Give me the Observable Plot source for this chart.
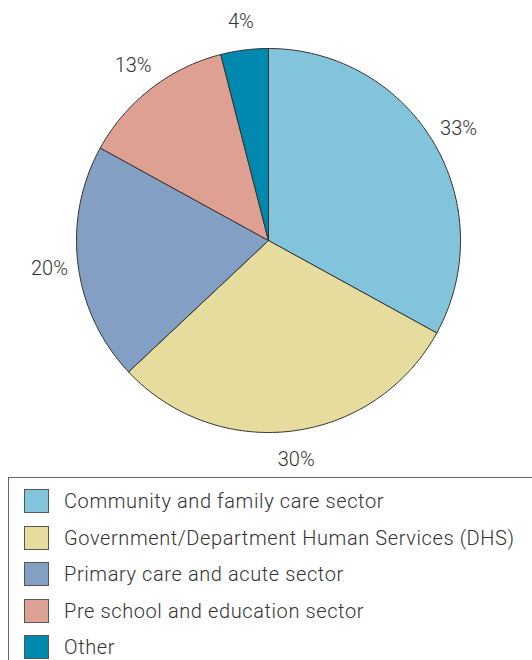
<!DOCTYPE html>
<html>
<head>
<meta charset="utf-8">
<script src="https://cdn.jsdelivr.net/npm/d3@7"></script>
<script src="https://cdn.jsdelivr.net/npm/@observablehq/plot@0.6"></script>
<style>
  html, body { margin: 0; padding: 0; background: #fff; width: 532px; overflow: hidden; }
  body { font-family: Roboto, "Open Sans", sans-serif; }
  #chart svg { display: block; }
  #legend {
    position: absolute; left: 8px; top: 477px; width: 540px; height: 200px;
    border: 1.5px solid #666; box-sizing: border-box; padding-top: 5px;
  }
  .item { display: flex; align-items: center; height: 36.5px; }
  .sw { width: 25px; height: 24px; margin-left: 15px; border: 1px solid #555; box-sizing: border-box; }
  .lab { margin-left: 15px; font-size: 20px; font-weight: 300; letter-spacing: 0.6px; color: #333; }
</style>
</head>
<body>
<div id="chart"></div>
<div id="legend"></div>
<script>
const categories = [
  "Community and family care sector",
  "Government/Department Human Services (DHS)",
  "Primary care and acute sector",
  "Pre school and education sector",
  "Other"
];
const values = [33, 30, 20, 13, 4];
const labels = ["33%", "30%", "20%", "13%", "4%"];
const colors = ["#82C4DC", "#E6DC9E", "#849FC4", "#DEA092", "#0089AE"];

const total = d3.sum(values);
const slices = [];
let acc = 0;
categories.forEach((name, i) => {
  const a0 = acc / total * 2 * Math.PI;
  acc += values[i];
  const a1 = acc / total * 2 * Math.PI;
  slices.push({name, value: values[i], label: labels[i], a0, a1});
});

// polygon outlines for each slice (angles clockwise from top)
const pts = [];
for (const s of slices) {
  pts.push({name: s.name, x: 0, y: 0});
  const n = Math.max(2, Math.ceil((s.a1 - s.a0) / (Math.PI / 180)));
  for (let k = 0; k <= n; k++) {
    const a = s.a0 + (s.a1 - s.a0) * k / n;
    pts.push({name: s.name, x: Math.sin(a), y: Math.cos(a)});
  }
  pts.push({name: s.name, x: 0, y: 0});
}
const labelR = 1.15;
const labelPts = slices.map(s => {
  const m = (s.a0 + s.a1) / 2;
  return {label: s.label, x: labelR * Math.sin(m), y: labelR * Math.cos(m)};
});

const W = 532, H = 476, R = 192, cx = 268, cy = 240;
const chart = Plot.plot({
  width: W, height: H,
  margin: 0,
  x: {domain: [-cx / R, (W - cx) / R], axis: null},
  y: {domain: [-(H - cy) / R, cy / R], axis: null},
  color: {domain: categories, range: colors},
  style: {fontFamily: "Roboto, 'Open Sans', sans-serif", background: "#fff"},
  marks: [
    Plot.line(pts, {x: "x", y: "y", z: "name", fill: "name", stroke: "#333", strokeWidth: 1, curve: "linear"}),
    Plot.text(labelPts, {x: "x", y: "y", text: "label", fontSize: 20, fontWeight: 300, fill: "#333", textAnchor: "middle"})
  ]
});
document.getElementById("chart").appendChild(chart);

const legend = d3.select("#legend");
categories.forEach((c, i) => {
  const it = legend.append("div").attr("class", "item");
  it.append("div").attr("class", "sw").style("background", colors[i]);
  it.append("div").attr("class", "lab").text(c);
});
</script>
</body>
</html>
